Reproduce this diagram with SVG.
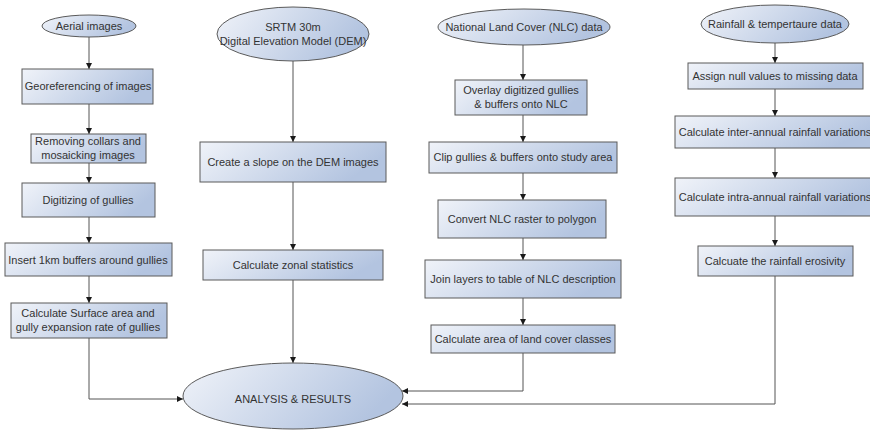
<svg xmlns="http://www.w3.org/2000/svg" width="870" height="430" viewBox="0 0 870 430">
<defs>
<linearGradient id="g" x1="0" y1="0" x2="1" y2="0.3">
<stop offset="0" stop-color="#f0f3f9"/>
<stop offset="1" stop-color="#b3c4e0"/>
</linearGradient>
<marker id="a" markerWidth="8" markerHeight="8" refX="6" refY="4" orient="auto" markerUnits="userSpaceOnUse">
<path d="M0,1 L6,4 L0,7 Z" fill="#1a1a1a"/>
</marker>
</defs>
<style>
.n rect, .n ellipse { fill: url(#g); stroke: #5a5a5a; stroke-width: 1; }
.n text { font-family: "Liberation Sans", Arial, sans-serif; font-size: 11px; fill: #333; text-anchor: middle; }
.c path { fill: none; stroke: #555; stroke-width: 1; marker-end: url(#a); }
</style>
<rect width="870" height="430" fill="#fff"/>
<g class="c" id="connectors">
<path d="M89,37 V69"/>
<path d="M89,104 V134"/>
<path d="M89,163 V183"/>
<path d="M89,217 V243"/>
<path d="M89,276 V303"/>
<path d="M89,338 V399 H183"/>
<path d="M293,61 V142"/>
<path d="M293,182 V250"/>
<path d="M293,280 V363"/>
<path d="M523,45 V80"/>
<path d="M523,115 V142"/>
<path d="M523,173 V200"/>
<path d="M523,238 V260"/>
<path d="M523,298 V325"/>
<path d="M523,353 V391 H402"/>
<path d="M775,43 V63"/>
<path d="M775,89 V116"/>
<path d="M775,148 V178"/>
<path d="M775,216 V246"/>
<path d="M775,276 V404 H402"/>
</g>
<g class="n" id="aerial"><ellipse cx="89" cy="26" rx="47" ry="11"/><text x="89" y="30">Aerial images</text></g>
<g class="n" id="georef"><rect x="22" y="69" width="131" height="35"/><text x="88" y="90">Georeferencing of images</text></g>
<g class="n" id="collars"><rect x="31" y="134" width="115" height="29"/><text x="88" y="145">Removing collars and</text><text x="88" y="159">mosaicking images</text></g>
<g class="n" id="digitize"><rect x="22" y="183" width="133" height="34"/><text x="88" y="204">Digitizing of gullies</text></g>
<g class="n" id="buffers"><rect x="5" y="243" width="167" height="33"/><text x="88" y="264">Insert 1km buffers around gullies</text></g>
<g class="n" id="surface"><rect x="11" y="303" width="156" height="35"/><text x="88" y="317">Calculate Surface area and</text><text x="88" y="331">gully expansion rate of gullies</text></g>
<g class="n" id="srtm"><ellipse cx="293" cy="34" rx="76" ry="27"/><text x="293" y="31">SRTM 30m</text><text x="293" y="45">Digital Elevation Model (DEM)</text></g>
<g class="n" id="slope"><rect x="200" y="142" width="186" height="40"/><text x="293" y="166">Create a slope on the DEM images</text></g>
<g class="n" id="zonal"><rect x="203" y="250" width="180" height="30"/><text x="293" y="269">Calculate zonal statistics</text></g>
<g class="n" id="results"><ellipse cx="293" cy="396" rx="110" ry="33"/><text x="293" y="403">ANALYSIS &amp; RESULTS</text></g>
<g class="n" id="nlc"><ellipse cx="524" cy="27" rx="86" ry="18"/><text x="524" y="31">National Land Cover (NLC) data</text></g>
<g class="n" id="overlay"><rect x="455" y="80" width="132" height="35"/><text x="521" y="94">Overlay digitized gullies</text><text x="521" y="108">&amp; buffers onto NLC</text></g>
<g class="n" id="clip"><rect x="429" y="142" width="188" height="31"/><text x="523" y="161">Clip gullies &amp; buffers onto study area</text></g>
<g class="n" id="convert"><rect x="438" y="200" width="168" height="38"/><text x="522" y="223">Convert NLC raster to polygon</text></g>
<g class="n" id="join"><rect x="425" y="260" width="196" height="38"/><text x="523" y="283">Join layers to table of NLC description</text></g>
<g class="n" id="landcover"><rect x="431" y="325" width="184" height="28"/><text x="523" y="343">Calculate area of land cover classes</text></g>
<g class="n" id="rain"><ellipse cx="775" cy="24" rx="74" ry="19"/><text x="775" y="28">Rainfall &amp; tempertaure data</text></g>
<g class="n" id="null"><rect x="688" y="63" width="175" height="26"/><text x="775" y="80">Assign null values to missing data</text></g>
<g class="n" id="inter"><rect x="675" y="116" width="200" height="32"/><text x="775" y="136">Calculate inter-annual rainfall variations</text></g>
<g class="n" id="intra"><rect x="675" y="178" width="200" height="38"/><text x="775" y="201">Calculate intra-annual rainfall variations</text></g>
<g class="n" id="erosivity"><rect x="698" y="246" width="155" height="30"/><text x="775" y="265">Calcuate the rainfall erosivity</text></g>
</svg>
